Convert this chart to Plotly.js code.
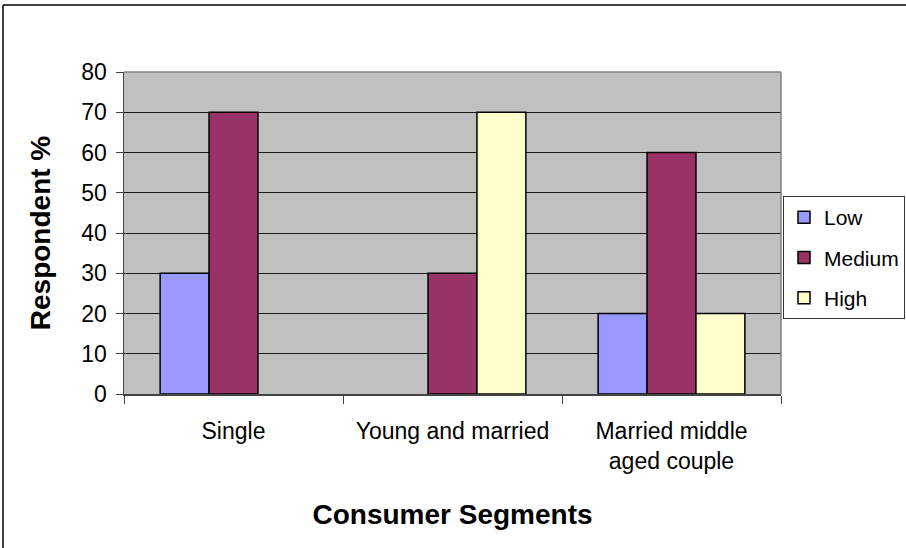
<!DOCTYPE html>
<html>
<head>
<meta charset="utf-8">
<script src="https://cdn.plot.ly/plotly-3.0.1.min.js"></script>
<style>
html,body{margin:0;padding:0;background:#fff;}
#chart{width:906px;height:548px;}
</style>
</head>
<body>
<div id="chart"></div>
<script>
var categories = ["Single", "Young and married", "Married middle<br>aged couple"];
var seriesNames = ["Low", "Medium", "High"];
var lowValues = [30, null, 20];
var mediumValues = [70, 30, 60];
var highValues = [null, 70, 20];
var yTickValues = [0, 10, 20, 30, 40, 50, 60, 70, 80];

var colors = ["#9999ff", "#993366", "#ffffcc"];
var allValues = [lowValues, mediumValues, highValues];

var traces = allValues.map(function (vals, i) {
  return {
    type: "bar",
    name: seriesNames[i],
    x: categories,
    y: vals,
    legendgroup: seriesNames[i],
    marker: { color: colors[i], line: { color: "#000000", width: 1.5 } },
    hoverinfo: "x+y+name"
  };
});

var L = 124, R = 781, T = 72, B = 394, W = 906, H = 548;
var pw = R - L, ph = B - T;
function px(x) { return (x - L) / pw; }
function py(y) { return (B - y) / ph; }

var layout = {
  width: W, height: H,
  margin: { l: L, r: W - R, t: T, b: H - B, pad: 0, autoexpand: false },
  paper_bgcolor: "#ffffff",
  plot_bgcolor: "#c0c0c0",
  font: { family: "Arial, 'Liberation Sans', sans-serif", color: "#000000", size: 23 },
  barmode: "group",
  bargap: 0.33,
  bargroupgap: 0,
  showlegend: true,
  legend: {
    x: px(783), y: py(196), xanchor: "left", yanchor: "top",
    bordercolor: "#333333", borderwidth: 1, bgcolor: "#ffffff",
    font: { size: 21, color: "#000000" },
    traceorder: "grouped",
    tracegroupgap: 10,
    itemwidth: 30
  },
  xaxis: {
    type: "category",
    showline: true, linecolor: "#444444", linewidth: 1.5,
    ticks: "outside", tickson: "boundaries", ticklen: 8, tickcolor: "#444444",
    ticklabelstandoff: 16,
    tickfont: { size: 23 },
    showgrid: false,
    title: { text: "<b>Consumer Segments</b>", font: { size: 28 }, standoff: 31 },
    automargin: false,
    fixedrange: true
  },
  yaxis: {
    range: [0, 80],
    tickvals: yTickValues,
    ticktext: yTickValues.map(String),
    showline: true, linecolor: "#444444", linewidth: 1.5,
    ticks: "outside", ticklen: 7, tickcolor: "#444444",
    ticklabelstandoff: 4,
    tickfont: { size: 23 },
    showgrid: true, gridcolor: "#1a1a1a", gridwidth: 1,
    zeroline: false,
    title: { text: "<b>Respondent %</b>", font: { size: 28 }, standoff: 22 },
    automargin: false,
    fixedrange: true
  },
  shapes: [
    { type: "line", xref: "paper", yref: "paper", layer: "above",
      x0: px(3), x1: px(3), y0: py(5), y1: py(560),
      line: { color: "#000000", width: 1.5 } },
    { type: "line", xref: "paper", yref: "paper", layer: "above",
      x0: px(3), x1: px(920), y0: py(5), y1: py(5),
      line: { color: "#000000", width: 1.5 } },
    { type: "line", xref: "paper", yref: "paper", layer: "above",
      x0: 0, x1: 1, y0: 1, y1: 1,
      line: { color: "#808080", width: 1.5 } },
    { type: "line", xref: "paper", yref: "paper", layer: "above",
      x0: 1, x1: 1, y0: 0, y1: 1,
      line: { color: "#808080", width: 1.5 } }
  ]
};

Plotly.newPlot("chart", traces, layout, { displayModeBar: false, staticPlot: true });
</script>
</body>
</html>
